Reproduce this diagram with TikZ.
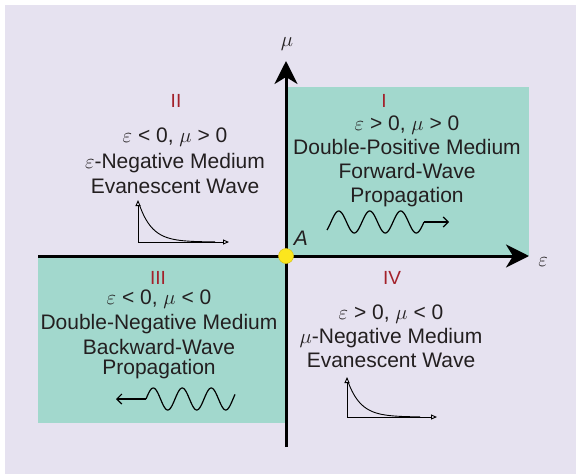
\documentclass[tikz,border=0pt]{standalone}
\usepackage{fontspec}
\setmainfont{Liberation Sans}
\usetikzlibrary{arrows.meta}
\definecolor{lavbg}{HTML}{E6E2F0}
\definecolor{dpsteal}{HTML}{A2D8CD}
\definecolor{quadred}{HTML}{A3212B}
\definecolor{inktext}{HTML}{231F20}
\definecolor{dotyellow}{HTML}{FCE61E}

\begin{document}
\begin{tikzpicture}[
    x=1pt, y=-1pt,
    every node/.style={font=\fontsize{21}{24}\selectfont, text=inktext},
    quadnum/.style={font=\fontsize{19}{22}\selectfont, text=quadred},
    quadtext/.style={align=center, inner sep=0pt},
    axislabel/.style={font=\fontsize{22}{24}\selectfont},
    axis/.style={line width=3pt, -{Stealth[length=23pt, width=23pt, inset=7pt]}},
    decay/.style={line width=0.9pt},
    minaxis/.style={line width=0.9pt, -{Triangle[open, length=6pt, width=5pt]}},
    wave/.style={line width=1.2pt},
    wavearr/.style={line width=1.2pt, -{Straight Barb[length=5pt, width=10pt]}}
]
\useasboundingbox (0,0) rectangle (576,474);
\fill[white] (0,0) rectangle (576,474);
\fill[lavbg] (5,5) rectangle (576,474);
\fill[dpsteal] (286,87) rectangle (529,256);
\fill[dpsteal] (38,256) rectangle (286,423);

\coordinate (epsstart) at (38,256);
\coordinate (epsend)   at (529,256);
\coordinate (mustart)  at (286,447);
\coordinate (muend)    at (286,61);
\draw[axis] (epsstart) -- (epsend);
\draw[axis] (mustart) -- (muend);

\node[circle, fill=dotyellow, draw=dotyellow!85!black, line width=0.5pt, minimum size=15pt, inner sep=0pt] (origin) at (286,256) {};
\node[axislabel] (mulabel)  at (287,44)  {$\mu$};
\node[axislabel] (epslabel) at (543,262) {$\varepsilon$};
\node (alabel) at (301,238) {\textit{A}};

\node[quadnum] (q1) at (384,101) {I};
\node[quadnum] (q2) at (176,101) {II};
\node[quadnum] (q3) at (158,278) {III};
\node[quadnum] (q4) at (392,278) {IV};

\node[quadtext] (dps) at (407,161) {$\varepsilon$ > 0, $\mu$ > 0\\Double-Positive Medium\\Forward-Wave\\Propagation};
\node[quadtext, font=\fontsize{21}{25.5}\selectfont] (enm) at (175,161) {$\varepsilon$ < 0, $\mu$ > 0\\$\varepsilon$-Negative Medium\\Evanescent Wave};
\node[quadtext, font=\fontsize{21}{25}\selectfont] (dng) at (159,334) {$\varepsilon$ < 0, $\mu$ < 0\\Double-Negative Medium\\Backward-Wave\\[-5pt]Propagation};
\node[quadtext] (mnm) at (391,336) {$\varepsilon$ > 0, $\mu$ < 0\\$\mu$-Negative Medium\\Evanescent Wave};

\draw[wave] plot[domain=327:424, samples=100, smooth] (\x, {222-11*sin(360/31*(\x-331))});
\coordinate (fwend) at (424,222);
\coordinate (fwtip) at (449,222);
\draw[wavearr] (fwend) -- (fwtip);

\draw[wave] plot[domain=146:235, samples=100, smooth] (\x, {399-11*sin(360/29*(\x-146))});
\coordinate (bwend) at (146,399);
\coordinate (bwtip) at (116,399);
\draw[wavearr] (bwend) -- (bwtip);

\coordinate (ev2o) at (138,242);
\coordinate (ev2y) at (138,200);
\coordinate (ev2x) at (229,242);
\draw[minaxis] (ev2o) -- (ev2y);
\draw[minaxis] (ev2o) -- (ev2x);
\draw[decay] plot[domain=139.5:215, samples=60, smooth] (\x, {242-37*exp(-(\x-139.5)/13)});

\coordinate (ev4o) at (347,417);
\coordinate (ev4y) at (347,377);
\coordinate (ev4x) at (437,417);
\draw[minaxis] (ev4o) -- (ev4y);
\draw[minaxis] (ev4o) -- (ev4x);
\draw[decay] plot[domain=348.5:420, samples=60, smooth] (\x, {417-34*exp(-(\x-348.5)/13)});
\end{tikzpicture}
\end{document}
